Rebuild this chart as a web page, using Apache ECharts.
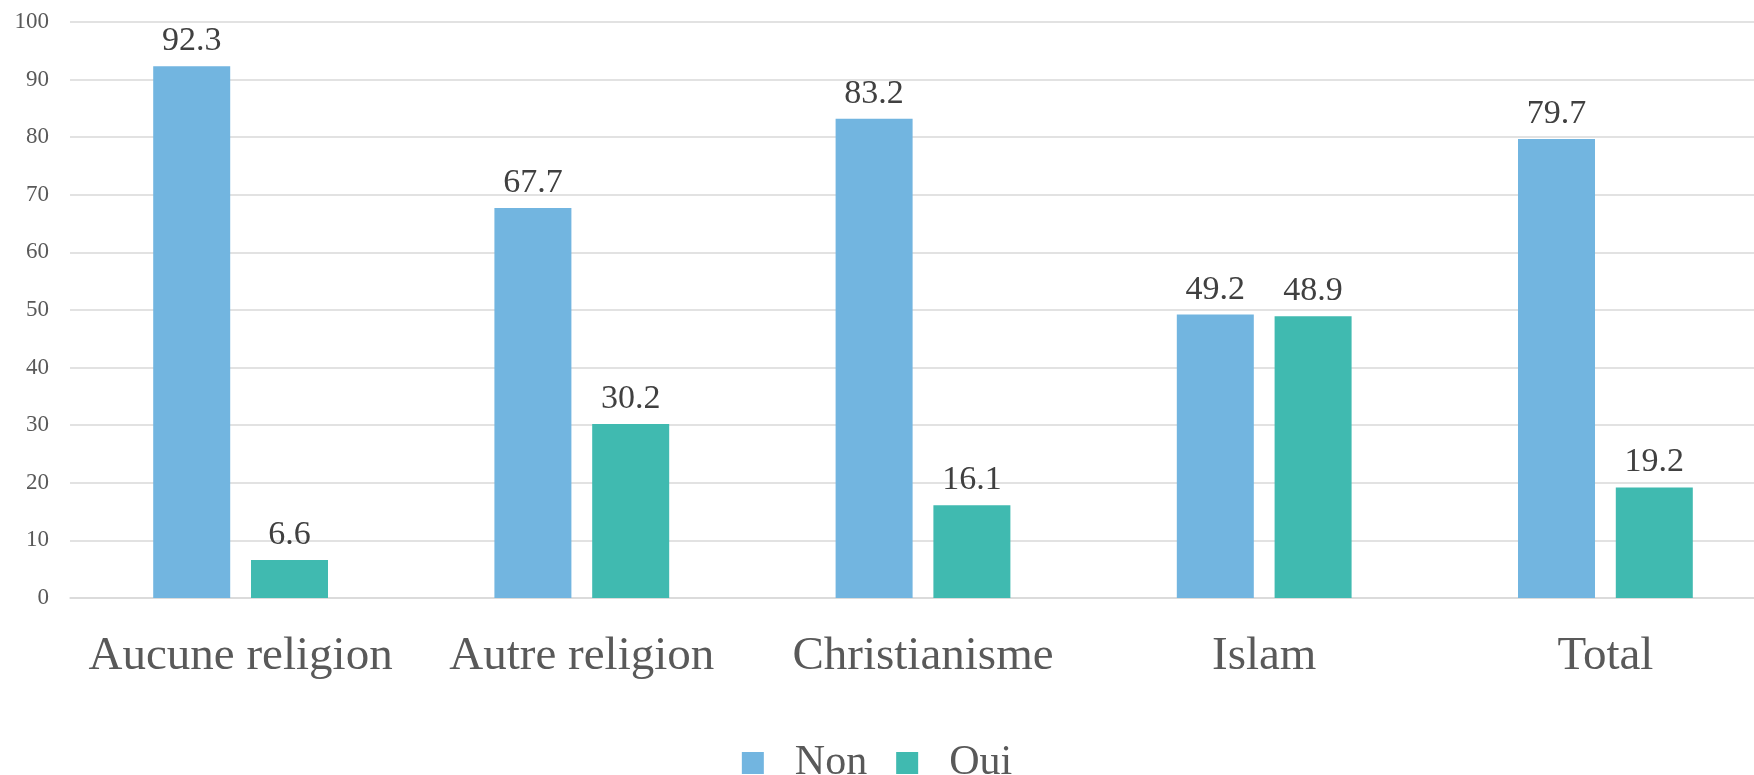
<!DOCTYPE html>
<html>
<head>
<meta charset="utf-8">
<script src="https://cdn.jsdelivr.net/npm/echarts@6/dist/echarts.min.js"></script>
<style>
  html, body { margin: 0; padding: 0; background: #fff; }
  #chart { width: 1754px; height: 775px; }
</style>
</head>
<body>
<div id="chart"></div>
<script>
// data
var categories = ['Aucune religion', 'Autre religion', 'Christianisme', 'Islam', 'Total']
var seriesNames = ['Non', 'Oui']
var nonValues = [92.3, 67.7, 83.2, 49.2, 79.7]
var ouiValues = [6.6, 30.2, 16.1, 48.9, 19.2]
var yTicks = { min: 0, max: 100, interval: 10 }

var serif = '"Liberation Serif", "Times New Roman", serif'
var colors = ['#72B5E0', '#40BAB0']

var chart = echarts.init(document.getElementById('chart'))

function barSeries(name, values, color) {
  return {
    name: name,
    type: 'bar',
    barWidth: 77,
    barGap: '27%',
    data: values,
    itemStyle: { color: color },
    label: {
      show: true,
      position: 'top',
      distance: 8,
      color: '#404040',
      fontFamily: serif,
      fontSize: 34
    }
  }
}

chart.setOption({
  animation: false,
  color: colors,
  grid: { left: 70, right: -22, top: 22, bottom: 177, outerBoundsMode: 'none' },
  legend: {
    data: seriesNames,
    left: 'center',
    top: 737,
    itemWidth: 22,
    itemHeight: 22,
    itemGap: 29,
    icon: 'rect',
    textStyle: {
      color: '#595959',
      fontFamily: serif,
      fontSize: 42,
      padding: [0, 0, 0, 26]
    }
  },
  xAxis: {
    type: 'category',
    data: categories,
    axisLine: { lineStyle: { color: '#D9D9D9', width: 1.5 } },
    axisTick: { show: false },
    axisLabel: {
      interval: 0,
      color: '#595959',
      fontFamily: serif,
      fontSize: 47,
      margin: 35
    }
  },
  yAxis: {
    type: 'value',
    min: yTicks.min,
    max: yTicks.max,
    interval: yTicks.interval,
    axisLine: { show: false },
    axisTick: { show: false },
    splitLine: { lineStyle: { color: '#D9D9D9', width: 1.5 } },
    axisLabel: {
      color: '#595959',
      fontFamily: serif,
      fontSize: 23,
      margin: 21
    }
  },
  series: [
    barSeries(seriesNames[0], nonValues, colors[0]),
    barSeries(seriesNames[1], ouiValues, colors[1])
  ]
})
</script>
</body>
</html>
